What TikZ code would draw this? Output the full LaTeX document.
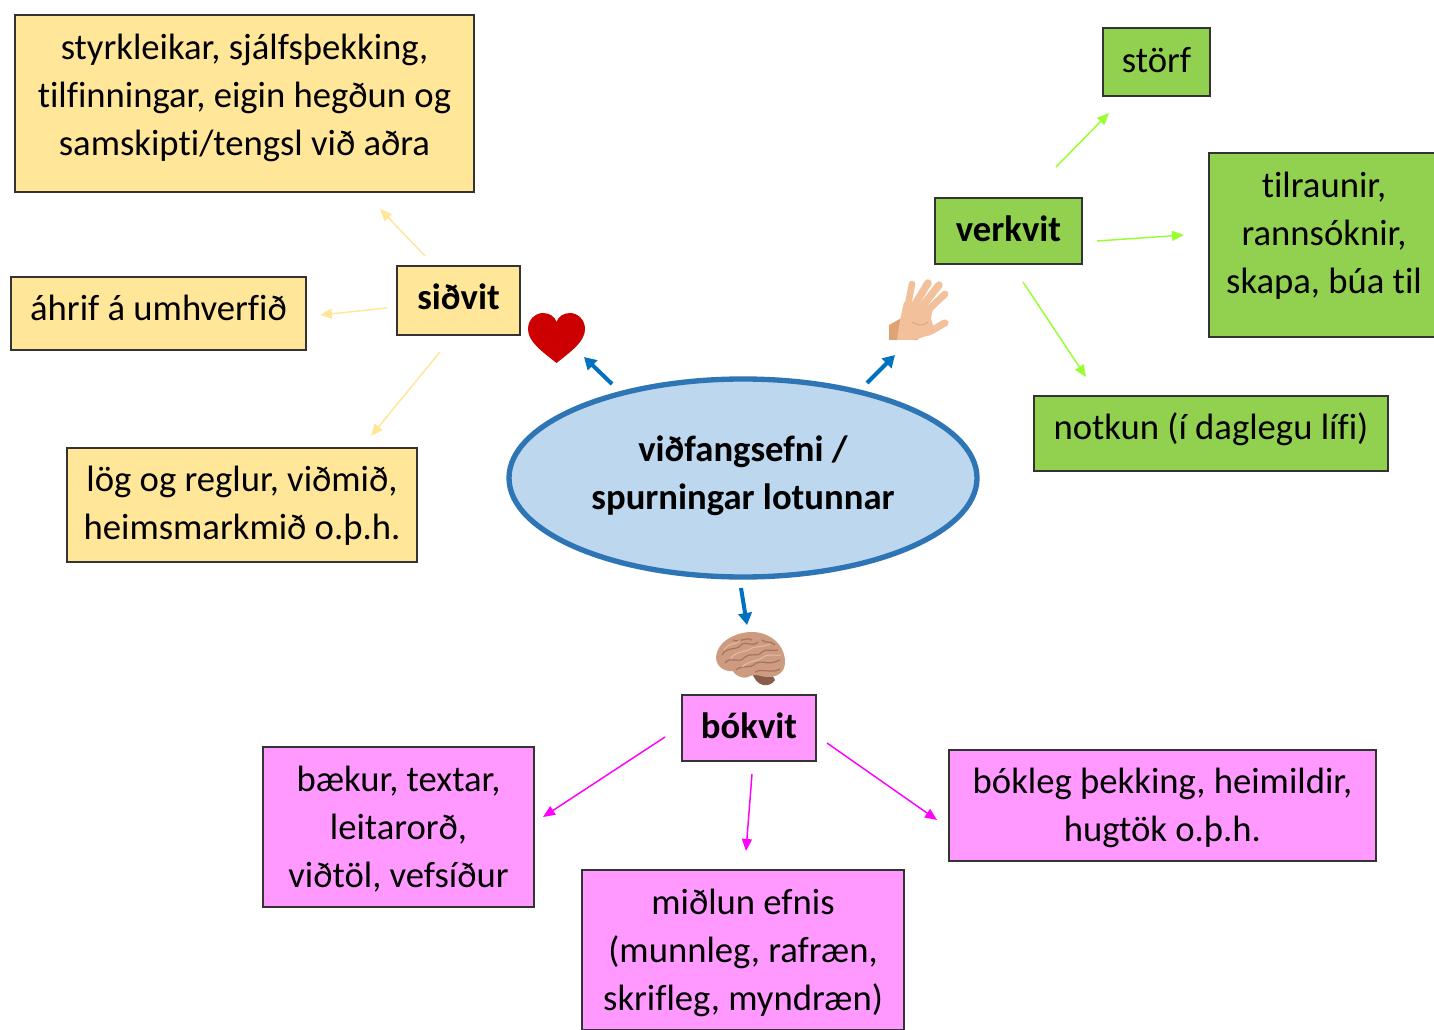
\documentclass[tikz,border=0pt]{standalone}
\usepackage{fontspec}
\setmainfont[Ligatures=NoCommon]{Carlito}
\usetikzlibrary{fit,arrows.meta,shapes.geometric}
\definecolor{yfill}{HTML}{FFE699}
\definecolor{gfill}{HTML}{92D050}
\definecolor{pfill}{HTML}{FF99FF}
\definecolor{efill}{HTML}{BDD7EE}
\definecolor{edraw}{HTML}{2E75B6}
\definecolor{blueA}{HTML}{0070C0}
\definecolor{greenA}{HTML}{99FF33}
\definecolor{pinkA}{HTML}{FF00FF}
\definecolor{skin}{HTML}{F2C19C}
\definecolor{skinD}{HTML}{DFA376}
\definecolor{brainA}{HTML}{CC9B80}
\definecolor{brainD}{HTML}{A9735A}
\definecolor{brainL}{HTML}{E3BFA8}
\newcommand\lines[2]{\raisebox{\dimexpr#1pt-8.2pt\relax}[0pt][0pt]{\begin{tabular}[c]{@{}c@{}}#2\end{tabular}}}
\tikzset{
  tbox/.style={draw=black!80,line width=0.8pt,inner sep=0pt,outer sep=0pt,rectangle},
  ybox/.style={tbox,fill=yfill},
  gbox/.style={tbox,fill=gfill},
  pbox/.style={tbox,fill=pfill},
  barrow/.style={draw=blueA,line width=3pt,-{Triangle[length=9pt,width=10pt]}},
  thinarrow/.style={line width=1.1pt,-{Triangle[length=9pt,width=7.5pt]}},
  yarrow/.style={thinarrow,draw=yfill,fill=yfill},
  garrow/.style={thinarrow,draw=greenA,fill=greenA},
  parrow/.style={thinarrow,draw=pinkA,fill=pinkA},
  sulcus/.style={draw=brainD,line width=0.9pt},
  gyrus/.style={draw=brainL,line width=0.7pt},
}
\begin{document}
\begin{tikzpicture}[x=0.75pt,y=-0.75pt,font=\fontsize{27.5}{36}\selectfont]
\useasboundingbox (0,0) rectangle (1434,1030);
\clip (0,0) rectangle (1434,1030);
% central ellipse
\node[ellipse,draw=edraw,fill=efill,line width=4pt,inner sep=0pt,minimum width=351pt,minimum height=148.5pt] (core) at (743,478) {\lines{3.4}{\bfseries viðfangsefni /\\\bfseries spurningar lotunnar}};
% yellow
\node[ybox,fit={(15,15)(474,192)}] (y1) {\lines{6.2}{styrkleikar, sjálfsþekking,\\tilfinningar, eigin hegðun og\\samskipti/tengsl við aðra}};
\node[ybox,fit={(11,277)(306,350)}] (y2) {\lines{4}{áhrif á umhverfið}};
\node[ybox,fit={(67,448)(417,562)}] (y3) {\lines{1}{lög og reglur, viðmið,\\heimsmarkmið o.þ.h.}};
\node[ybox,fit={(397,266)(520,335)}] (sid) {\lines{2.4}{\bfseries siðvit}};
% green
\node[gbox,fit={(935,198)(1082,264)}] (verk) {\lines{1.5}{\bfseries verkvit}};
\node[gbox,fit={(1103,28)(1210,96)}] (g1) {\lines{1.5}{störf}};
\node[gbox,fit={(1209,153)(1439,337)}] (g2) {\lines{9}{tilraunir,\\rannsóknir,\\skapa, búa til}};
\node[gbox,fit={(1034,396)(1388,471)}] (g3) {\lines{4.5}{notkun (í daglegu lífi)}};
% pink
\node[pbox,fit={(682,695)(816,761)}] (bok) {\lines{1.5}{\bfseries bókvit}};
\node[pbox,fit={(263,747)(534,907)}] (p1) {\lines{0}{bækur, textar,\\leitarorð,\\viðtöl, vefsíður}};
\node[pbox,fit={(582,870)(904,1030)}] (p2) {\lines{0}{miðlun efnis\\(munnleg, rafræn,\\skrifleg, myndræn)}};
\node[pbox,fit={(949,750)(1376,861)}] (p3) {\lines{0}{bókleg þekking, heimildir,\\hugtök o.þ.h.}};
% connector ends
\foreach \n/\x/\y in {ba/612/384,bb/584/357,bc/867/383,bd/895/355,be/741/588,bf/747/625,
  ga/1056/167,gb/1109/113,gc/1097/241,gd/1184/235,ge/1023/282,gf/1086/377,
  ya/425/256,yb/380/209,yc/387/308,yd/320/315,ye/440/352,yf/371/436,
  pa/665/737,pb/543/817,pc/752/774,pd/746/851,pe/827/743,pf/937/820}
  {\coordinate (\n) at (\x,\y);}
\draw[barrow] (ba) -- (bb);
\draw[barrow] (bc) -- (bd);
\draw[barrow] (be) -- (bf);
\draw[garrow] (ga) -- (gb);
\draw[garrow] (gc) -- (gd);
\draw[garrow] (ge) -- (gf);
\draw[yarrow] (ya) -- (yb);
\draw[yarrow] (yc) -- (yd);
\draw[yarrow] (ye) -- (yf);
\draw[parrow] (pa) -- (pb);
\draw[parrow] (pc) -- (pd);
\draw[parrow] (pe) -- (pf);
% heart
\fill[red!80!black] (556.5,363) .. controls (540,350) and (528,341) .. (528,329)
  .. controls (528,319) and (536,313) .. (543,313) .. controls (550,313) and (555,317) .. (556.5,322)
  .. controls (558,317) and (563,313) .. (570,313) .. controls (577,313) and (585,319) .. (585,329)
  .. controls (585,341) and (573,350) .. (556.5,363) -- cycle;
% hand
\fill[skinD] (889,340) -- (889,325) -- (905,316) -- (918,340) -- cycle;
\draw[skin,line width=5pt,line cap=round] (907,310) -- (912,284);
\draw[skin,line width=5.6pt,line cap=round] (914,306) -- (928,283);
\draw[skin,line width=5.6pt,line cap=round] (921,308) -- (939,285);
\draw[skin,line width=5.2pt,line cap=round] (926,312) -- (945,294);
\draw[skin,line width=5.4pt,line cap=round] (924,333) .. controls (932,332) and (938,326) .. (945,323);
\fill[skin] (897,340) .. controls (899,326) and (901,314) .. (904,302) -- (934,308)
  .. controls (930,315) and (930,322) .. (935,328) .. controls (930,334) and (922,339) .. (912,340) -- cycle;
\draw[skinD,line width=0.6pt] (912,322) .. controls (918,326) and (923,326) .. (928,322);
% brain
\fill[brainD!80!black] (752,672) .. controls (756,688) and (770,688) .. (775,680) .. controls (772,672) and (760,670) .. (752,672) -- cycle;
\fill[brainA] (716,657) .. controls (717,642) and (735,632) .. (752,632)
  .. controls (770,632) and (785,645) .. (785,662) .. controls (785,672) and (778,677) .. (768,677)
  .. controls (760,677) and (756,673) .. (750,676) .. controls (745,680) and (735,676) .. (733,671)
  .. controls (725,672) and (716,667) .. (716,657) -- cycle;
\draw[sulcus] (722,655) .. controls (728,645) and (735,652) .. (741,645) .. controls (746,640) and (752,648) .. (758,642);
\draw[sulcus] (725,663) .. controls (732,655) and (738,665) .. (745,657) .. controls (750,652) and (757,658) .. (762,652) .. controls (766,648) and (772,652) .. (778,650);
\draw[sulcus] (736,670) .. controls (742,664) and (750,670) .. (756,663) .. controls (762,660) and (768,666) .. (780,660);
\draw[sulcus] (733,640) .. controls (738,644) and (745,636) .. (752,640);
\draw[sulcus] (762,640) .. controls (766,644) and (770,640) .. (775,645);
\draw[sulcus] (755,672) .. controls (762,668) and (772,674) .. (780,669);
\draw[gyrus] (724,650) .. controls (730,641) and (736,646) .. (740,640);
\draw[gyrus] (730,659) .. controls (737,650) and (745,653) .. (752,648) .. controls (758,646) and (765,647) .. (770,644);
\draw[gyrus] (742,667) .. controls (750,660) and (757,662) .. (765,656) .. controls (770,654) and (776,656) .. (781,655);
\end{tikzpicture}
\end{document}
